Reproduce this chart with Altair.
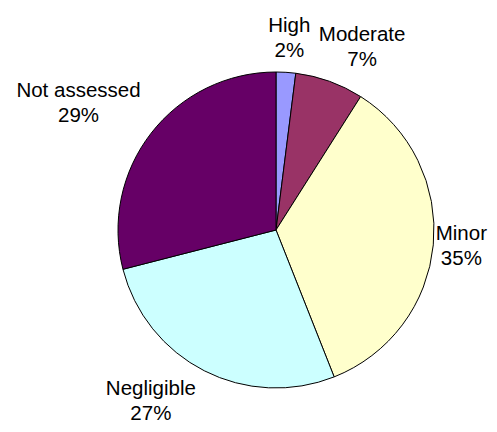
import math
import altair as alt
import pandas as pd

categories = ["High", "Moderate", "Minor", "Negligible", "Not assessed"]
values = [2, 7, 35, 27, 29]
colors = ["#9999FF", "#993366", "#FFFFCC", "#CCFFFF", "#660066"]

df = pd.DataFrame({
    "category": categories,
    "value": values,
    "order": list(range(len(categories))),
})
df["label"] = df["category"] + "\n" + df["value"].astype(str) + "%"

total = sum(values)
W, H = 481, 416
cx, cy = 268, 222
R = 158
GAP = 11
FS = 20.5
LH = 25

theta_scale = alt.Scale(domain=[0, total], range=[0, 2 * math.pi])

arcs = alt.Chart(df).mark_arc(stroke="black", strokeWidth=1).encode(
    theta=alt.Theta("value:Q", stack=True, scale=theta_scale),
    order=alt.Order("order:Q"),
    color=alt.Color("category:N", scale=alt.Scale(domain=categories, range=colors), legend=None),
    x=alt.value(cx), y=alt.value(cy), radius=alt.value(R),
)

labels = alt.Chart(df).transform_window(
    cum="sum(value)", sort=[alt.SortField("order")], frame=[None, 0]
).transform_calculate(
    ang=f"2 * PI * (datum.cum - datum.value / 2) / {total}",
    hw=f"0.26 * {FS} * length(datum.category)",
).transform_calculate(
    sx="clamp(2 * sin(datum.ang), -1, 1)",
    sy="clamp(1.6 * cos(datum.ang) + 0.2, -0.85, 1)",
).transform_calculate(
    px0=f"{cx} + {R + GAP} * sin(datum.ang) + datum.hw * datum.sx",
    py0=f"{cy} + 2 - {R + GAP} * cos(datum.ang) - {LH} * datum.sy",
).transform_calculate(
    px=f"clamp(datum.px0, datum.hw + 1, {W} - datum.hw - 1)",
    py=f"clamp(datum.py0, {LH}, {H} - 23)",
).mark_text(
    font="Liberation Sans", fontSize=FS, lineHeight=LH, lineBreak="\n",
    color="black", align="center", baseline="middle", dy=-LH / 2,
).encode(
    x=alt.X("px:Q", scale=None),
    y=alt.Y("py:Q", scale=None),
    text="label:N",
)

chart = alt.layer(arcs, labels).properties(
    width=W, height=H, autosize=alt.AutoSizeParams(type="none"), padding=0
).configure_view(stroke=None)

chart.save("out.html", embed_options={"renderer": "svg", "actions": False})
